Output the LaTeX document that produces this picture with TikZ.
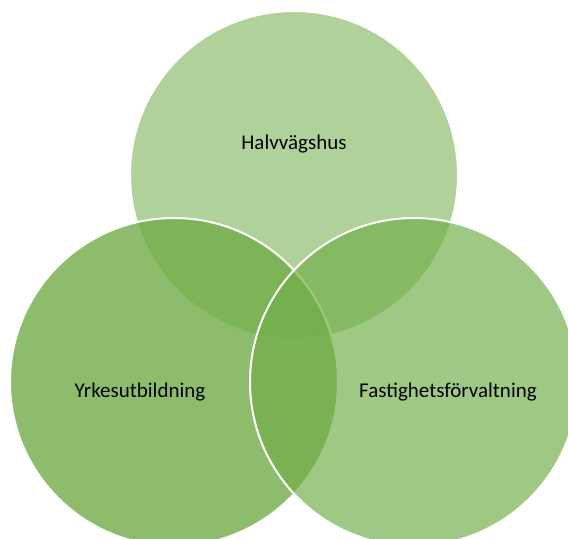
\documentclass[tikz,border=0pt]{standalone}
\usepackage{fontspec}
\setmainfont{Carlito}
\definecolor{venngreen}{HTML}{70AD47}
\begin{document}
\begin{tikzpicture}[x=1bp,y=-1bp,
  venn/.style={fill=venngreen,draw=white,line width=2bp},
  lbl/.style={anchor=base,text=black,font=\fontsize{21bp}{25bp}\selectfont,inner sep=0pt}]
\useasboundingbox (0,0) rectangle (568,539);
\clip (0,0) rectangle (568,539);
\draw[venn,fill opacity=0.55] (294,175) circle[radius=164];
\draw[venn,fill opacity=0.8] (174,382) circle[radius=164];
\draw[venn,fill opacity=0.67] (414,382) circle[radius=164];
\node[lbl] (top) at (294,150) {Halvvägshus};
\node[lbl] (left) at (140,397) {Yrkesutbildning};
\node[lbl] (right) at (448,397) {Fastighetsförvaltning};
\end{tikzpicture}
\end{document}
